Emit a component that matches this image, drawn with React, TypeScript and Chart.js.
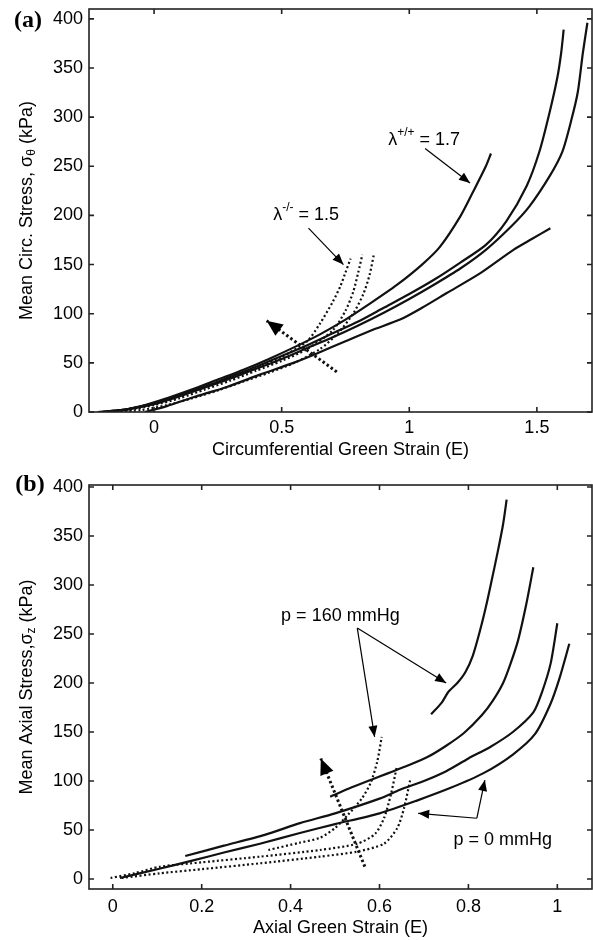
import React, { useEffect, useRef } from "react";
import { Chart, registerables } from "chart.js";

Chart.register(...registerables);

const FONT = '"Liberation Sans", Arial, Helvetica, sans-serif';
const SERIF = '"Liberation Serif", "Times New Roman", serif';
const INK = "#000";

// ---------------- Panel (a): circumferential ----------------
const circTicksX = [0, 0.5, 1, 1.5];
const circTicksY = [0, 50, 100, 150, 200, 250, 300, 350, 400];

const wt1StrainA = [-0.22, -0.15, -0.05, 0.05, 0.15, 0.25, 0.35, 0.45, 0.55, 0.65, 0.75, 0.85, 0.95, 1.05, 1.12, 1.2, 1.25, 1.3, 1.32];
const wt1StressA = [0, 1, 6, 14, 23, 33, 43, 54, 66, 79, 94, 111, 129, 150, 168, 199, 224, 250, 263];

const wt2StrainA = [-0.22, -0.1, 0, 0.1, 0.2, 0.3, 0.4, 0.5, 0.6, 0.7, 0.8, 0.9, 1.0, 1.1, 1.2, 1.3, 1.38, 1.46, 1.51, 1.55, 1.58, 1.595, 1.605];
const wt2StressA = [0, 3, 9, 17, 26, 36, 46, 57, 68, 80, 92, 106, 120, 135, 152, 170, 194, 230, 265, 305, 340, 365, 389];

const wt3StrainA = [-0.2, -0.1, 0, 0.1, 0.2, 0.3, 0.4, 0.5, 0.6, 0.7, 0.8, 0.9, 1.0, 1.1, 1.2, 1.3, 1.4, 1.47, 1.55, 1.6, 1.635, 1.66, 1.68, 1.698];
const wt3StressA = [0, 3, 8, 16, 25, 34, 44, 54, 65, 76, 88, 101, 115, 130, 146, 165, 189, 209, 240, 265, 297, 325, 365, 396];

const wt4StrainA = [-0.035, 0.05, 0.154, 0.285, 0.415, 0.546, 0.638, 0.75, 0.85, 0.964, 1.05, 1.147, 1.277, 1.408, 1.48, 1.553];
const wt4StressA = [0, 6, 15, 25.5, 38, 50, 59.6, 72, 83, 94, 106, 121, 141, 165, 176, 187];

const ko1StrainA = [-0.2, -0.1, 0, 0.1, 0.2, 0.3, 0.4, 0.5, 0.6, 0.65, 0.7, 0.73, 0.75, 0.77];
const ko1StressA = [0, 3, 9, 17, 26, 35, 45, 56, 72, 90, 112, 128, 142, 156];

const ko2StrainA = [-0.2, -0.1, 0, 0.1, 0.2, 0.3, 0.4, 0.5, 0.6, 0.7, 0.75, 0.78, 0.8, 0.816];
const ko2StressA = [0, 2, 7, 14, 23, 32, 42, 52, 64, 83, 103, 122, 142, 160];

const ko3StrainA = [-0.15, -0.05, 0.05, 0.15, 0.25, 0.35, 0.45, 0.55, 0.65, 0.72, 0.78, 0.82, 0.845, 0.861];
const ko3StressA = [0, 2, 7, 14, 22, 31, 40, 50, 64, 80, 100, 120, 140, 160];

const trendArrowA = [0.716, 40.8, 0.441, 92.9];
const thinArrowsA = [
  [0.605, 187, 0.742, 150],
  [1.062, 268, 1.238, 233],
];
const labelsA = [
  { main: "λ", sup: "-/-", rest: " = 1.5", x: 0.596, y: 200.7 },
  { main: "λ", sup: "+/+", rest: " = 1.7", x: 1.058, y: 277 },
];

// ---------------- Panel (b): axial ----------------
const axialTicksX = [0, 0.2, 0.4, 0.6, 0.8, 1];
const axialTicksY = [0, 50, 100, 150, 200, 250, 300, 350, 400];

const s1StrainB = [0.716, 0.74, 0.755, 0.775, 0.793, 0.81, 0.827, 0.84, 0.852, 0.866, 0.878, 0.886];
const s1StressB = [168, 180, 191, 200, 211, 228, 255, 279, 304, 334, 362, 387];

const s2StrainB = [0.489, 0.53, 0.58, 0.62, 0.665, 0.71, 0.75, 0.79, 0.83, 0.855, 0.878, 0.895, 0.912, 0.93, 0.946];
const s2StressB = [84, 92, 101, 108, 116, 125, 136, 149, 167, 182, 200, 220, 244, 280, 318];

const s3StrainB = [0.163, 0.25, 0.342, 0.421, 0.5, 0.6, 0.646, 0.7, 0.75, 0.8, 0.85, 0.9, 0.946, 0.965, 0.985, 1.0];
const s3StressB = [23.5, 34, 45, 57, 67, 82, 91, 100, 110, 123, 135, 150, 170, 190, 220, 261];

const s4StrainB = [0.016, 0.1, 0.181, 0.25, 0.331, 0.421, 0.5, 0.6, 0.684, 0.76, 0.834, 0.9, 0.95, 0.984, 1.005, 1.027];
const s4StressB = [1, 10, 19, 27, 36, 47, 56, 67, 80, 93, 108, 127, 148, 178, 205, 240];

const d1StrainB = [0.35, 0.42, 0.466, 0.5, 0.53, 0.56, 0.58, 0.595, 0.605];
const d1StressB = [29.6, 37, 42, 52, 66, 82, 98, 120, 145];

const d2StrainB = [-0.005, 0.05, 0.106, 0.2, 0.331, 0.466, 0.55, 0.59, 0.61, 0.625, 0.639];
const d2StressB = [1, 6, 12.5, 17, 22.8, 29.6, 36, 46, 62, 85, 114.6];

const d3StrainB = [0.02, 0.106, 0.2, 0.331, 0.466, 0.55, 0.61, 0.64, 0.655, 0.669];
const d3StressB = [1, 5.8, 10, 16, 22.8, 28, 36, 52, 72, 101];

const trendArrowB = [0.567, 12.6, 0.468, 123];
const thinArrowsB = [
  [0.55, 256, 0.75, 200],
  [0.55, 256, 0.589, 145],
  [0.819, 62, 0.687, 67],
  [0.819, 62, 0.837, 101],
];
const labelsB = [
  { main: "p = 160 mmHg", sup: "", rest: "", x: 0.512, y: 268 },
  { main: "p = 0 mmHg", sup: "", rest: "", x: 0.877, y: 40 },
];

// ---------------- helpers ----------------
function pts(xs: number[], ys: number[]) {
  return xs.map((x, i) => ({ x, y: ys[i] }));
}

function solid(xs: number[], ys: number[]) {
  return {
    data: pts(xs, ys),
    showLine: true,
    borderColor: "#111",
    borderWidth: 2.2,
    pointRadius: 0,
    tension: 0.25,
  };
}

function dotted(xs: number[], ys: number[]) {
  return {
    data: pts(xs, ys),
    showLine: true,
    borderColor: "#111",
    borderWidth: 2.2,
    borderDash: [2, 2.5],
    pointRadius: 0,
    tension: 0.25,
  };
}

function trend(a: number[]) {
  return {
    data: [
      { x: a[0], y: a[1] },
      { x: a[2], y: a[3] },
    ],
    showLine: true,
    borderColor: "#111",
    borderWidth: 3,
    borderDash: [2.5, 2.5],
    pointRadius: 0,
  };
}

type Part = { t: string; size: number; dy: number };

function drawParts(ctx: CanvasRenderingContext2D, parts: Part[], cx: number, cy: number) {
  let total = 0;
  const widths = parts.map((p) => {
    ctx.font = `${p.size}px ${FONT}`;
    const w = ctx.measureText(p.t).width;
    total += w;
    return w;
  });
  let x = cx - total / 2;
  ctx.textAlign = "left";
  ctx.textBaseline = "middle";
  parts.forEach((p, i) => {
    ctx.font = `${p.size}px ${FONT}`;
    ctx.fillText(p.t, x, cy + p.dy);
    x += widths[i];
  });
}

function arrowHead(ctx: CanvasRenderingContext2D, x1: number, y1: number, x2: number, y2: number, len: number, half: number) {
  const a = Math.atan2(y2 - y1, x2 - x1);
  const bx = x2 - len * Math.cos(a);
  const by = y2 - len * Math.sin(a);
  ctx.beginPath();
  ctx.moveTo(x2, y2);
  ctx.lineTo(bx + half * Math.sin(a), by - half * Math.cos(a));
  ctx.lineTo(bx - half * Math.sin(a), by + half * Math.cos(a));
  ctx.closePath();
  ctx.fill();
}

const decorPlugin = {
  id: "decor",
  afterDraw(chart: any, _args: any, opts: any) {
    const { ctx, chartArea: ca, scales } = chart;
    const sx = scales.x;
    const sy = scales.y;
    const px = (v: number) => sx.getPixelForValue(v);
    const py = (v: number) => sy.getPixelForValue(v);
    ctx.save();
    ctx.fillStyle = INK;
    ctx.strokeStyle = "#222";

    // frame
    ctx.lineWidth = 1.6;
    ctx.setLineDash([]);
    ctx.strokeRect(ca.left, ca.top, ca.right - ca.left, ca.bottom - ca.top);

    // inward ticks on all four sides
    const tl = 5;
    ctx.beginPath();
    for (const t of opts.xTicks) {
      const x = px(t);
      ctx.moveTo(x, ca.bottom);
      ctx.lineTo(x, ca.bottom - tl);
      ctx.moveTo(x, ca.top);
      ctx.lineTo(x, ca.top + tl);
    }
    for (const t of opts.yTicks) {
      const y = py(t);
      ctx.moveTo(ca.left, y);
      ctx.lineTo(ca.left + tl, y);
      ctx.moveTo(ca.right, y);
      ctx.lineTo(ca.right - tl, y);
    }
    ctx.stroke();

    // thin arrows
    ctx.strokeStyle = INK;
    ctx.lineWidth = 1.2;
    for (const a of opts.arrows) {
      const x1 = px(a[0]), y1 = py(a[1]), x2 = px(a[2]), y2 = py(a[3]);
      ctx.beginPath();
      ctx.moveTo(x1, y1);
      ctx.lineTo(x2, y2);
      ctx.stroke();
      arrowHead(ctx, x1, y1, x2, y2, 11, 4.5);
    }

    // trend arrow head
    {
      const a = opts.trend;
      arrowHead(ctx, px(a[0]), py(a[1]), px(a[2]), py(a[3]), 16, 7);
    }

    // annotation labels
    ctx.fillStyle = INK;
    for (const l of opts.labels) {
      const parts: Part[] = [{ t: l.main, size: 18, dy: 0 }];
      if (l.sup) parts.push({ t: l.sup, size: 12, dy: -7 });
      if (l.rest) parts.push({ t: l.rest, size: 18, dy: 0 });
      drawParts(ctx, parts, px(l.x), py(l.y));
    }

    // y-axis title with subscript
    ctx.save();
    ctx.translate(27, (ca.top + ca.bottom) / 2);
    ctx.rotate(-Math.PI / 2);
    drawParts(
      ctx,
      [
        { t: opts.yTitle[0], size: 18, dy: 0 },
        { t: opts.yTitle[1], size: 12, dy: 5 },
        { t: opts.yTitle[2], size: 18, dy: 0 },
      ],
      0,
      0
    );
    ctx.restore();

    // panel label
    ctx.font = `bold 24px ${SERIF}`;
    ctx.textAlign = "center";
    ctx.textBaseline = "middle";
    ctx.fillText(opts.panel, opts.panelX, opts.panelY);
    ctx.restore();
  },
};

type Spec = {
  datasets: any[];
  xMin: number;
  xMax: number;
  yMin: number;
  yMax: number;
  xTicks: number[];
  yTicks: number[];
  top: number;
  xAxisH: number;
  xTickPad: number;
  xTitlePad: number;
  xTitle: string;
  yTitle: string[];
  arrows: number[][];
  trend: number[];
  labels: any[];
  panel: string;
  panelX: number;
  panelY: number;
};

function buildConfig(p: Spec): any {
  return {
    type: "scatter",
    data: { datasets: p.datasets },
    options: {
      responsive: false,
      animation: false,
      devicePixelRatio: 1,
      layout: { padding: { left: 0, right: 1, top: p.top, bottom: 0 } },
      plugins: {
        legend: { display: false },
        tooltip: { enabled: false },
        decor: {
          xTicks: p.xTicks,
          yTicks: p.yTicks,
          arrows: p.arrows,
          trend: p.trend,
          labels: p.labels,
          yTitle: p.yTitle,
          panel: p.panel,
          panelX: p.panelX,
          panelY: p.panelY,
        },
      },
      scales: {
        x: {
          type: "linear",
          min: p.xMin,
          max: p.xMax,
          grid: { display: false, drawTicks: false },
          border: { display: false },
          ticks: {
            font: { family: FONT, size: 18 },
            color: INK,
            padding: p.xTickPad,
            maxRotation: 0,
            autoSkip: false,
            callback: (v: number) => String(v),
          },
          afterBuildTicks: (s: any) => {
            s.ticks = p.xTicks.map((v) => ({ value: v }));
          },
          afterFit: (s: any) => {
            s.height = p.xAxisH;
            s.paddingLeft = 0;
            s.paddingRight = 0;
          },
          title: {
            display: true,
            text: p.xTitle,
            font: { family: FONT, size: 18 },
            color: INK,
            padding: { top: 0, bottom: p.xTitlePad },
          },
        },
        y: {
          type: "linear",
          min: p.yMin,
          max: p.yMax,
          grid: { display: false, drawTicks: false },
          border: { display: false },
          ticks: {
            font: { family: FONT, size: 18 },
            color: INK,
            padding: 6,
            autoSkip: false,
            callback: (v: number) => String(v),
          },
          afterBuildTicks: (s: any) => {
            s.ticks = p.yTicks.map((v) => ({ value: v }));
          },
          afterFit: (s: any) => {
            s.width = 89;
            s.paddingTop = 0;
            s.paddingBottom = 0;
          },
        },
      },
    },
    plugins: [decorPlugin],
  };
}

function configA() {
  return buildConfig({
    datasets: [
      solid(wt1StrainA, wt1StressA),
      solid(wt2StrainA, wt2StressA),
      solid(wt3StrainA, wt3StressA),
      solid(wt4StrainA, wt4StressA),
      dotted(ko1StrainA, ko1StressA),
      dotted(ko2StrainA, ko2StressA),
      dotted(ko3StrainA, ko3StressA),
      trend(trendArrowA),
    ],
    xMin: -0.255,
    xMax: 1.716,
    yMin: 0,
    yMax: 410,
    xTicks: circTicksX,
    yTicks: circTicksY,
    top: 9,
    xAxisH: 58,
    xTickPad: 5.5,
    xTitlePad: 9,
    xTitle: "Circumferential Green Strain (E)",
    yTitle: ["Mean Circ. Stress, σ", "θ", " (kPa)"],
    arrows: thinArrowsA,
    trend: trendArrowA,
    labels: labelsA,
    panel: "(a)",
    panelX: 28,
    panelY: 21,
  });
}

function configB() {
  return buildConfig({
    datasets: [
      solid(s1StrainB, s1StressB),
      solid(s2StrainB, s2StressB),
      solid(s3StrainB, s3StressB),
      solid(s4StrainB, s4StressB),
      dotted(d1StrainB, d1StressB),
      dotted(d2StrainB, d2StressB),
      dotted(d3StrainB, d3StressB),
      trend(trendArrowB),
    ],
    xMin: -0.0535,
    xMax: 1.078,
    yMin: -10.2,
    yMax: 402,
    xTicks: axialTicksX,
    yTicks: axialTicksY,
    top: 15,
    xAxisH: 51,
    xTickPad: 7,
    xTitlePad: 1,
    xTitle: "Axial Green Strain (E)",
    yTitle: ["Mean Axial Stress,σ", "z", " (kPa)"],
    arrows: thinArrowsB,
    trend: trendArrowB,
    labels: labelsB,
    panel: "(b)",
    panelX: 30,
    panelY: 15,
  });
}

export default function App() {
  const topRef = useRef<HTMLCanvasElement>(null);
  const botRef = useRef<HTMLCanvasElement>(null);

  useEffect(() => {
    const c1 = new Chart(topRef.current as HTMLCanvasElement, configA());
    const c2 = new Chart(botRef.current as HTMLCanvasElement, configB());
    return () => {
      c1.destroy();
      c2.destroy();
    };
  }, []);

  return (
    <div style={{ position: "absolute", left: 0, top: 0, width: 593, height: 940, background: "#fff" }}>
      <canvas ref={topRef} width={593} height={470} style={{ display: "block" }} />
      <canvas ref={botRef} width={593} height={470} style={{ display: "block" }} />
    </div>
  );
}
